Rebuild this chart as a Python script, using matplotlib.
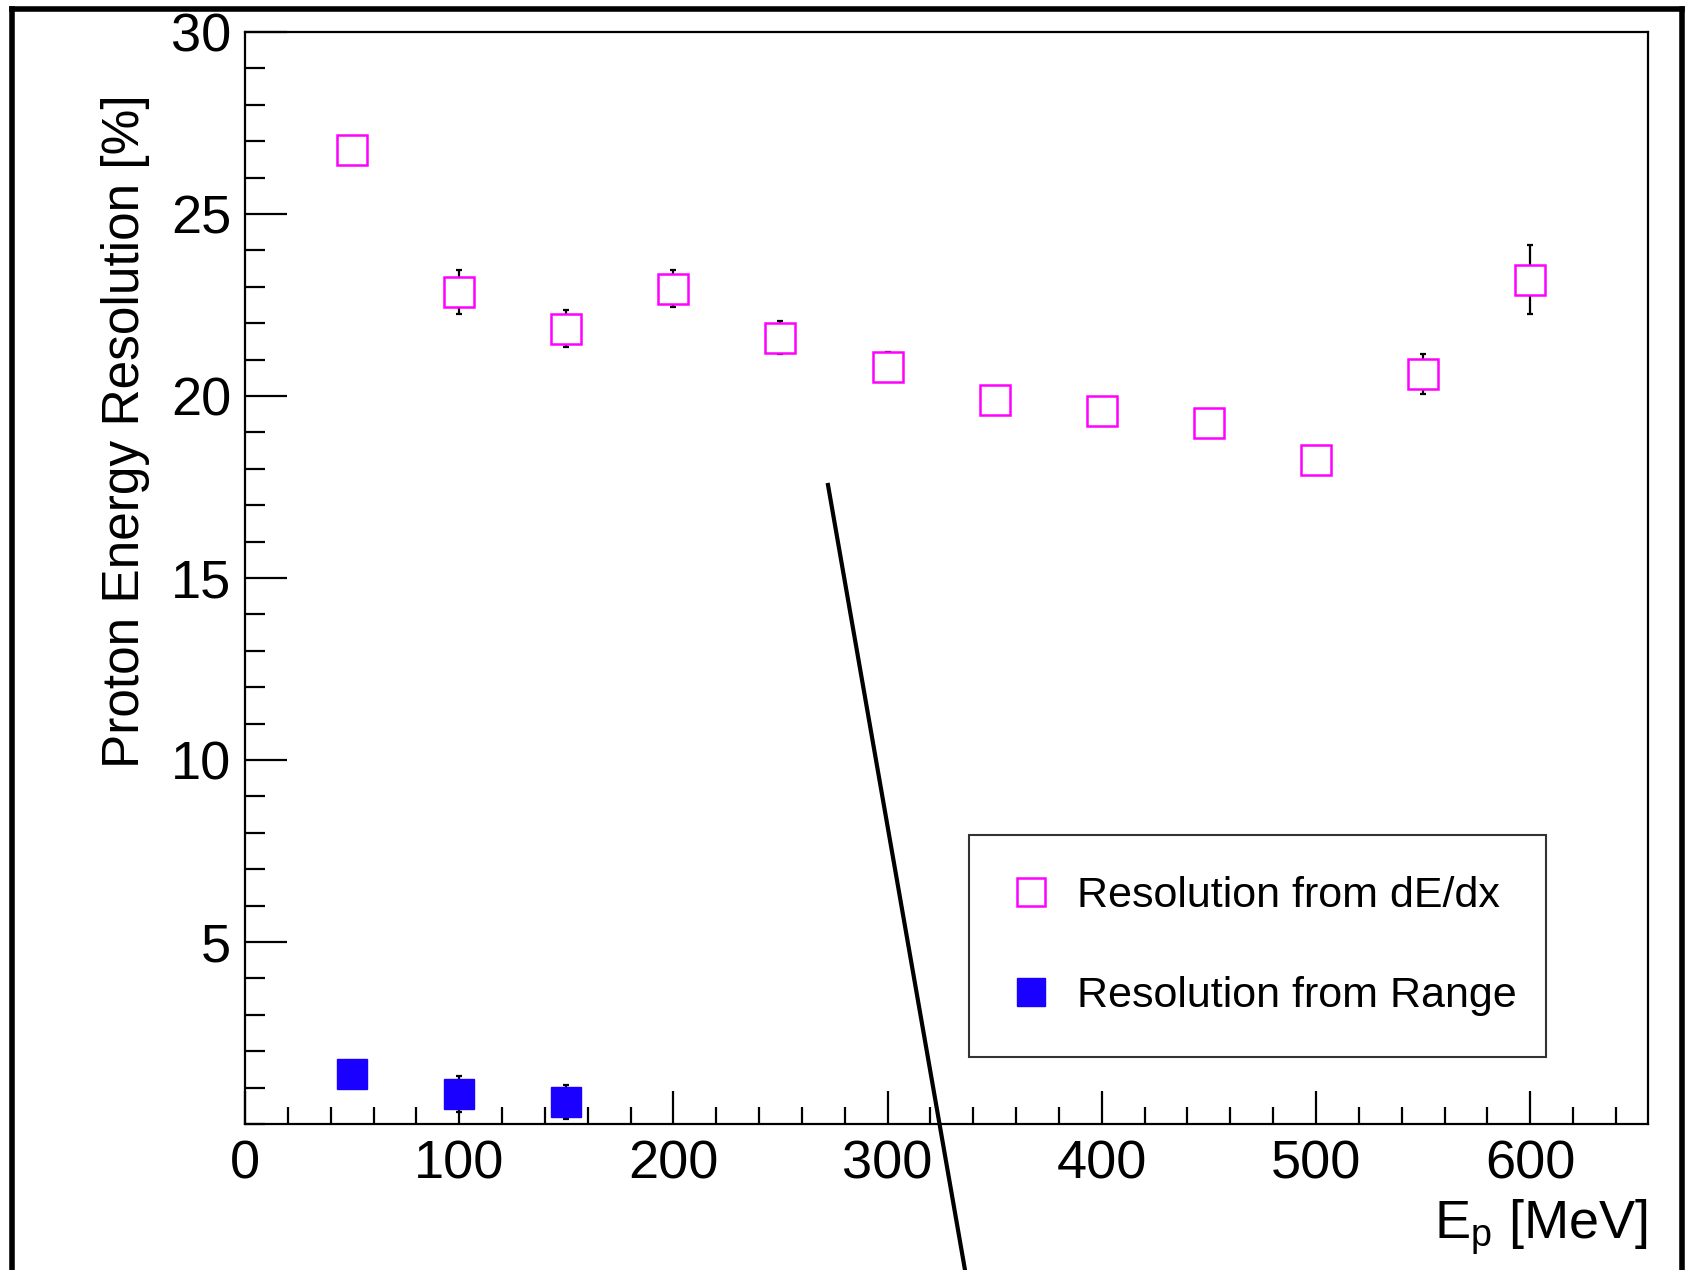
import numpy as np
import matplotlib
matplotlib.use("Agg")
import matplotlib.pyplot as plt
from matplotlib.lines import Line2D
from matplotlib.ticker import MultipleLocator

plt.rcParams['font.family'] = ['Liberation Sans', 'DejaVu Sans']

# data
energy_dedx = [50, 100, 150, 200, 250, 300, 350, 400, 450, 500, 550, 600]
res_dedx = [26.75, 22.85, 21.85, 22.95, 21.6, 20.8, 19.9, 19.6, 19.25, 18.25, 20.6, 23.2]
err_dedx = [0.1, 0.6, 0.5, 0.5, 0.45, 0.4, 0.15, 0.15, 0.15, 0.15, 0.55, 0.95]

energy_range = [50, 100, 150]
res_range = [1.36, 0.83, 0.6]
err_range = [0.1, 0.5, 0.47]

W, H = 1686, 1270
fig = plt.figure(figsize=(W / 100, H / 100), dpi=100)

# axes box in pixel coords of the reference
x0, x1, y0, y1 = 245, 1648, 32, 1124
ax = fig.add_axes([x0 / W, 1 - y1 / H, (x1 - x0) / W, (y1 - y0) / H])

ax.errorbar(energy_dedx, res_dedx, yerr=err_dedx, fmt='none', ecolor='black',
            elinewidth=1.6, capsize=2.5, capthick=1.6, zorder=2)
ax.plot(energy_dedx, res_dedx, 's', ms=21, mfc='white', mec='#ff00ff', mew=1.8,
        linestyle='none', zorder=3)
ax.errorbar(energy_range, res_range, yerr=err_range, fmt='none', ecolor='black',
            elinewidth=1.6, capsize=2.5, capthick=1.6, zorder=2)
ax.plot(energy_range, res_range, 's', ms=21, mfc='#1a00ff', mec='#1a00ff', mew=1,
        linestyle='none', zorder=3)

ax.set_xlim(0, 655)
ax.set_ylim(0, 30)
ax.xaxis.set_major_locator(MultipleLocator(100))
ax.xaxis.set_minor_locator(MultipleLocator(20))
ax.yaxis.set_major_locator(MultipleLocator(5))
ax.yaxis.set_minor_locator(MultipleLocator(1))
ax.set_yticks([5, 10, 15, 20, 25, 30])

for s in ax.spines.values():
    s.set_linewidth(1.6)
ax.tick_params(axis='x', which='major', direction='in', length=24, width=1.6,
               labelsize=39, pad=11)
ax.tick_params(axis='x', which='minor', direction='in', length=12, width=1.6)
ax.tick_params(axis='y', which='major', direction='in', length=30, width=1.6,
               labelsize=39, pad=10)
ax.tick_params(axis='y', which='minor', direction='in', length=14.5, width=1.6)

ax.set_ylabel('Proton Energy Resolution [%]', fontsize=37)
ax.yaxis.set_label_coords(-0.068, 0.634)
ax.set_xlabel(r'E$_\mathregular{p}$ [MeV]', fontsize=39, ha='right', x=1.0, labelpad=0)
ax.xaxis.set_label_coords(1.0, -0.068)

handles = [
    Line2D([], [], marker='s', ms=20, mfc='white', mec='#ff00ff', mew=1.8, linestyle='none'),
    Line2D([], [], marker='s', ms=20, mfc='#1a00ff', mec='#1a00ff', linestyle='none'),
]
leg = ax.legend(handles, ['Resolution from dE/dx', 'Resolution from Range'],
                loc='lower left', bbox_to_anchor=(0.516, 0.0614, 0.411, 0.203),
                mode='expand', fontsize=31, frameon=True, fancybox=False,
                borderpad=0.95, labelspacing=1.4, handletextpad=0.55,
                handlelength=1.0, borderaxespad=0)
leg.get_frame().set_edgecolor('black')
leg.get_frame().set_linewidth(1.5)

# outer frame of the screenshot and the pointer line
fig.add_artist(Line2D([12 / W, 12 / W], [0, 1 - 9 / H], color='black', lw=4))
fig.add_artist(Line2D([12 / W, 1682 / W], [1 - 9 / H, 1 - 9 / H], color='black', lw=4))
fig.add_artist(Line2D([1682 / W, 1682 / W], [0, 1 - 9 / H], color='black', lw=4))
fig.add_artist(Line2D([828 / W, 965 / W], [1 - 485 / H, 0], color='black', lw=3))

fig.savefig('out.png', dpi=100)
